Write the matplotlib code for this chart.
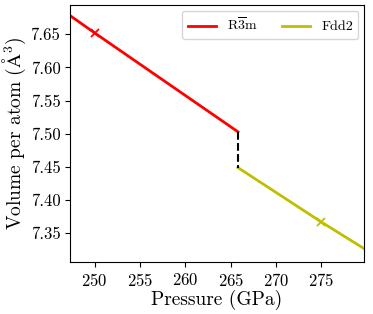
import numpy as np
import matplotlib
matplotlib.use("Agg")
import matplotlib.pyplot as plt

plt.rcParams['font.family'] = 'cmr10'
plt.rcParams['mathtext.fontset'] = 'cm'
plt.rcParams['axes.formatter.use_mathtext'] = True

# R-3m branch (pressure in GPa, volume in A^3/atom)
r3m_p = [247.3, 250.0, 265.8]
r3m_v = [7.678, 7.652, 7.503]
# Fdd2 branch
fdd2_p = [265.8, 275.0, 279.7]
fdd2_v = [7.449, 7.367, 7.327]
# calculated points marked with x
mark_p = [250.0, 275.0]
mark_v = [7.652, 7.367]

fig, ax = plt.subplots(figsize=(3.73, 3.14), dpi=100)
ax.plot(r3m_p, r3m_v, color='red', lw=2, label=r'R$\overline{3}$m')
ax.plot(fdd2_p, fdd2_v, color='#bfbf00', lw=2, label='Fdd2')
ax.plot([r3m_p[-1], fdd2_p[0]], [r3m_v[-1], fdd2_v[0]], 'k--', lw=1.5)
ax.plot(mark_p[0], mark_v[0], marker='x', color='red', ms=6, mew=1.3)
ax.plot(mark_p[1], mark_v[1], marker='x', color='#bfbf00', ms=6, mew=1.3)

ax.set_xlim(247.3, 279.7)
ax.set_ylim(7.307, 7.694)
ax.set_xticks([250, 255, 260, 265, 270, 275])
ax.set_yticks([7.35, 7.40, 7.45, 7.50, 7.55, 7.60, 7.65])
ax.set_yticklabels(['7.35', '7.40', '7.45', '7.50', '7.55', '7.60', '7.65'])
ax.tick_params(labelsize=12)
ax.set_xlabel('Pressure (GPa)', fontsize=14, labelpad=1)
ax.set_ylabel(r'Volume per atom ($\mathrm{\AA}^3$)', fontsize=14, labelpad=2)
ax.legend(loc='upper right', ncol=2, fontsize=10, handlelength=2.0,
          columnspacing=1.8, borderaxespad=0.4)

fig.subplots_adjust(left=0.188, right=0.976, top=0.984, bottom=0.166)
fig.savefig('out.png', dpi=100)
